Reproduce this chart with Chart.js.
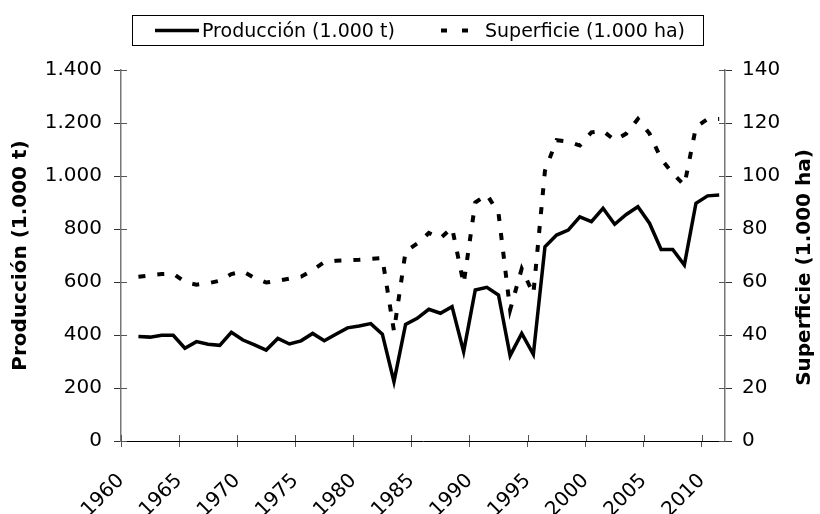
<!DOCTYPE html>
<html>
<head>
<meta charset="utf-8">
<script src="https://cdn.jsdelivr.net/npm/chart.js@4.4.0/dist/chart.umd.min.js"></script>
<style>
    body { margin: 0; background: #fff; }
    #wrap { position: relative; width: 820px; height: 514px; }
    #legend {
        position: absolute; left: 132px; top: 15px; width: 572px; height: 31px;
        border: 1px solid #000; box-sizing: border-box;
        font-family: "DejaVu Sans"; font-size: 19px; color: #000;
    }
    #legend span, #legend svg { position: absolute; white-space: nowrap; }
</style>
</head>
<body>
<div id="wrap">
    <canvas id="myChart" width="820" height="514"></canvas>
    <div id="legend">
        <svg style="left:22px;top:12px" width="44" height="5"><line x1="0" y1="2.5" x2="44" y2="2.5" stroke="#000" stroke-width="3.5"/></svg>
        <span style="left:69px;top:3px">Producción (1.000 t)</span>
        <svg style="left:308px;top:12px" width="30" height="5"><line x1="0" y1="2.5" x2="30" y2="2.5" stroke="#000" stroke-width="4" stroke-dasharray="6 15"/></svg>
        <span style="left:352px;top:3px">Superficie (1.000 ha)</span>
    </div>
</div>
<script>
const years = [
    1961, 1962, 1963, 1964, 1965, 1966, 1967, 1968, 1969, 1970,
    1971, 1972, 1973, 1974, 1975, 1976, 1977, 1978, 1979, 1980,
    1981, 1982, 1983, 1984, 1985, 1986, 1987, 1988, 1989, 1990,
    1991, 1992, 1993, 1994, 1995, 1996, 1997, 1998, 1999, 2000,
    2001, 2002, 2003, 2004, 2005, 2006, 2007, 2008, 2009, 2010,
    2011
];

// Producción (1.000 t)
const produccion = [
    394, 392, 399, 399, 350, 375, 365, 361, 410, 381,
    363, 343, 387, 366, 378, 406, 378, 403, 427, 434,
    443, 403, 224, 440, 463, 497, 482, 507, 337, 570,
    580, 551, 322, 406, 327, 733, 777, 796, 846, 828,
    878, 818, 855, 884, 822, 723, 723, 664, 897, 925,
    928
];

// Superficie (1.000 ha)
const superficie = [
    62, 62.5, 63, 63.2, 60, 59, 59.5, 60.5, 63, 64,
    61.5, 59.8, 60.5, 61.3, 62, 64.5, 67.5, 68, 68.2, 68.4,
    68.7, 69, 41.5, 71.5, 74.5, 78.5, 76.5, 80.5, 59.3, 90,
    93, 86, 49.5, 65, 55.5, 102, 113.5, 113, 111.5, 116.5,
    117, 113.5, 116, 121.5, 116, 106.5, 101, 96.5, 118.5, 121.5,
    121.5
];

const xTicks = [1960, 1965, 1970, 1975, 1980, 1985, 1990, 1995, 2000, 2005, 2010];

const rightTitle = 'Superficie (1.000 ha)';

Chart.defaults.font.family = 'DejaVu Sans';
Chart.defaults.font.size = 20;
Chart.defaults.color = '#000';

// values are plotted at mid-year, like the original chart
function toPoints(values) {
    return values.map((v, i) => ({ x: years[i] + 0.5, y: v }));
}

// ticks in the original cross the axis line, so draw the inner half too
const crossTicks = {
    id: 'crossTicks',
    afterDraw(chart) {
        const ctx = chart.ctx;
        const area = chart.chartArea;
        const len = 6;
        ctx.save();
        ctx.lineWidth = 1;
        ctx.strokeStyle = '#555';

        const x = chart.scales.x;
        x.ticks.forEach(t => {
            const px = Math.round(x.getPixelForValue(t.value)) + 0.5;
            ctx.beginPath();
            ctx.moveTo(px, area.bottom);
            ctx.lineTo(px, area.bottom - len);
            ctx.stroke();
        });

        const y = chart.scales.y;
        y.ticks.forEach(t => {
            const py = Math.round(y.getPixelForValue(t.value)) + 0.5;
            ctx.beginPath();
            ctx.moveTo(area.left, py);
            ctx.lineTo(area.left + len, py);
            ctx.stroke();
        });

        const y1 = chart.scales.y1;
        y1.ticks.forEach(t => {
            const py = Math.round(y1.getPixelForValue(t.value)) + 0.5;
            ctx.beginPath();
            ctx.moveTo(area.right, py);
            ctx.lineTo(area.right - len, py);
            ctx.stroke();
        });
        ctx.restore();
    }
};

// right axis title reads bottom-to-top in the original (Chart.js turns it the other way)
const rightAxisTitle = {
    id: 'rightAxisTitle',
    afterDraw(chart) {
        const ctx = chart.ctx;
        const area = chart.chartArea;
        ctx.save();
        ctx.translate(805, (area.top + area.bottom) / 2 + 12);
        ctx.rotate(-Math.PI / 2);
        ctx.font = 'bold 20px "DejaVu Sans"';
        ctx.fillStyle = '#000';
        ctx.textAlign = 'center';
        ctx.textBaseline = 'middle';
        ctx.fillText(rightTitle, 0, 0);
        ctx.restore();
    }
};

const chartData = {
    datasets: [
        {
            label: 'Producción (1.000 t)',
            data: toPoints(produccion),
            yAxisID: 'y',
            borderColor: '#000',
            borderWidth: 3.5,
            pointRadius: 0,
            tension: 0,
            fill: false
        },
        {
            label: 'Superficie (1.000 ha)',
            data: toPoints(superficie),
            yAxisID: 'y1',
            borderColor: '#000',
            borderWidth: 4,
            borderDash: [7, 12],
            borderCapStyle: 'butt',
            pointRadius: 0,
            tension: 0,
            fill: false
        }
    ]
};

const config = {
    type: 'line',
    data: chartData,
    plugins: [crossTicks, rightAxisTitle],
    options: {
        responsive: false,
        animation: false,
        layout: { padding: { top: 70, left: 0, right: 0, bottom: 0 } },
        plugins: {
            legend: { display: false },
            tooltip: { enabled: false }
        },
        scales: {
            x: {
                type: 'linear',
                min: 1960,
                max: 2012,
                afterBuildTicks: scale => {
                    scale.ticks = xTicks.map(v => ({ value: v }));
                },
                afterFit: scale => { scale.height = 73; },
                ticks: {
                    minRotation: 45,
                    maxRotation: 45,
                    padding: 22,
                    callback: v => String(v)
                },
                grid: {
                    drawOnChartArea: false,
                    tickLength: 6,
                    color: '#555'
                },
                border: { color: '#000', width: 1 }
            },
            y: {
                position: 'left',
                min: 0,
                max: 1400,
                afterFit: scale => { scale.width = 121; },
                ticks: {
                    stepSize: 200,
                    padding: 12,
                    callback: v => v.toLocaleString('de-DE')
                },
                title: {
                    display: true,
                    text: 'Producción (1.000 t)',
                    font: { size: 20, weight: 'bold' },
                    padding: { top: 9, bottom: 0 }
                },
                grid: {
                    drawOnChartArea: false,
                    tickLength: 7,
                    color: '#333'
                },
                border: { color: '#777', width: 1.5 }
            },
            y1: {
                position: 'right',
                min: 0,
                max: 140,
                afterFit: scale => { scale.width = 95; },
                ticks: {
                    stepSize: 20,
                    padding: 10
                },
                grid: {
                    drawOnChartArea: false,
                    tickLength: 7,
                    color: '#333'
                },
                border: { color: '#777', width: 1.5 }
            }
        }
    }
};

const myChart = new Chart(document.getElementById('myChart'), config);
</script>
</body>
</html>
